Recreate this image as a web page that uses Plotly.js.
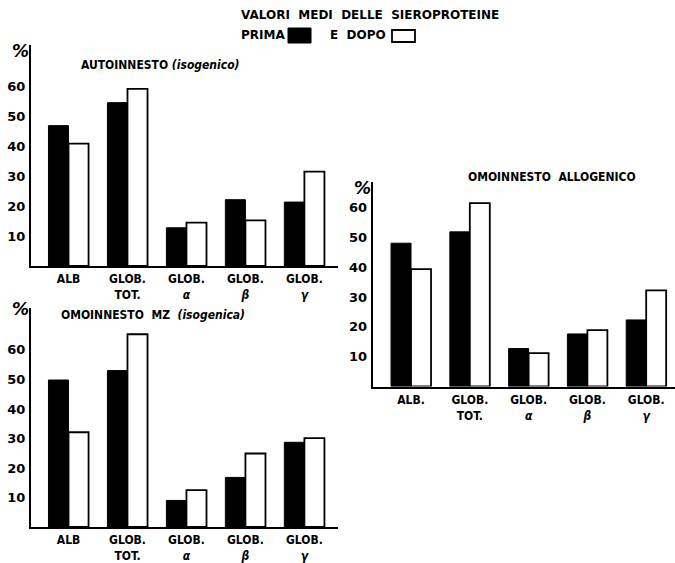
<!DOCTYPE html>
<html>
<head>
<meta charset="utf-8">
<script src="https://cdn.plot.ly/plotly-3.0.1.min.js"></script>
<style>html,body{margin:0;padding:0;background:#fff;}#chart{width:675px;height:563px;}</style>
</head>
<body>
<div id="chart"></div>
<script>
// ---- data ----
const catsAuto = ["ALB", "GLOB.<br>TOT.", "GLOB.<br><i>α</i>", "GLOB.<br><i>β</i>", "GLOB.<br><i>γ</i>"];
const catsMZ = ["ALB", "GLOB.<br>TOT.", "GLOB.<br><i>α</i>", "GLOB.<br><i>β</i>", "GLOB.<br><i>γ</i>"];
const catsAllo = ["ALB.", "GLOB.<br>TOT.", "GLOB.<br><i>α</i>", "GLOB.<br><i>β</i>", "GLOB.<br><i>γ</i>"];
const autoPrima = [47.0, 54.7, 12.8, 22.2, 21.4];
const autoDopo = [41.0, 59.3, 14.5, 15.3, 31.6];
const mzPrima = [49.8, 53.0, 9.0, 16.8, 28.7];
const mzDopo = [32.1, 65.3, 12.5, 24.9, 30.1];
const alloPrima = [48.0, 51.8, 12.7, 17.6, 22.3];
const alloDopo = [39.3, 61.4, 11.2, 18.9, 32.2];
const yTicks = [10, 20, 30, 40, 50, 60];
const titleMain = "VALORI  MEDI  DELLE  SIEROPROTEINE";
const legPrima = "PRIMA";
const legDopo = "E  DOPO";
const titleAuto = "AUTOINNESTO <i>(isogenico)</i>";
const titleMZ = "OMOINNESTO  MZ  <i>(isogenica)</i>";
const titleAllo = "OMOINNESTO  ALLOGENICO";

// ---- layout helpers ----
const W = 675, H = 563;
const px = x => x / W;
const py = y => 1 - y / H;
const FONT_C = "DejaVu Sans Condensed, DejaVu Sans, sans-serif";
const FONT = "DejaVu Sans, sans-serif";

function primaTrace(x, y, xa, ya) {
  return {type: "bar", x: x, y: y, xaxis: xa, yaxis: ya, name: "PRIMA", showlegend: false,
    marker: {color: "#000", line: {color: "#000", width: 1}}, hoverinfo: "x+y"};
}
function dopoTrace(x, y, xa, ya) {
  return {type: "bar", x: x, y: y, xaxis: xa, yaxis: ya, name: "DOPO", showlegend: false,
    marker: {color: "#fff", line: {color: "#000", width: 1.8}}, hoverinfo: "x+y"};
}

const data = [
  primaTrace(catsAuto, autoPrima, "x", "y"),
  dopoTrace(catsAuto, autoDopo, "x", "y"),
  primaTrace(catsMZ, mzPrima, "x2", "y2"),
  dopoTrace(catsMZ, mzDopo, "x2", "y2"),
  primaTrace(catsAllo, alloPrima, "x3", "y3"),
  dopoTrace(catsAllo, alloDopo, "x3", "y3")
];

function xax(domain, range, anchor) {
  return {domain: domain, range: range, anchor: anchor, type: "category",
    showline: true, linewidth: 2, linecolor: "#000", ticks: "", showgrid: false, zeroline: false,
    tickfont: {family: FONT_C, size: 12, color: "#000", weight: "bold"}, ticklabelstandoff: 1, fixedrange: true};
}
function yax(domain, range, anchor) {
  return {domain: domain, range: range, anchor: anchor,
    showline: true, linewidth: 2, linecolor: "#000", ticks: "", showgrid: false, zeroline: false,
    tickvals: yTicks, tickfont: {family: FONT, size: 13, color: "#000", weight: "bold"},
    ticklabelstandoff: 1, fixedrange: true};
}

const ann = (text, x, y, size, xanchor, fam) => ({
  text: text, x: px(x), y: py(y), xref: "paper", yref: "paper", showarrow: false,
  xanchor: xanchor || "center", yanchor: "middle",
  font: {family: fam || FONT_C, size: size, color: "#000", weight: "bold"}});

const layout = {
  width: W, height: H,
  margin: {l: 0, r: 0, t: 0, b: 0},
  paper_bgcolor: "#fff", plot_bgcolor: "rgba(0,0,0,0)",
  showlegend: false,
  barmode: "group", bargap: 0.32, bargroupgap: 0,
  font: {family: FONT_C, color: "#000"},
  xaxis: xax([px(31), px(338)], [-0.636, 4.57], "y"),
  yaxis: yax([py(266), py(45)], [0, 74.0], "x"),
  xaxis2: xax([px(31), px(338)], [-0.636, 4.57], "y2"),
  yaxis2: yax([py(527), py(308)], [0, 74.2], "x2"),
  xaxis3: xax([px(372.7), px(675)], [-0.652, 4.49], "y3"),
  yaxis3: yax([py(386.5), py(182)], [0, 68.5], "x3"),
  annotations: [
    ann(titleMain, 239, 15, 12, "left", FONT),
    ann(legPrima, 239, 35, 12, "left", FONT),
    ann(legDopo, 328, 35, 12, "left", FONT),
    ann(titleAuto, 160, 65, 12),
    ann(titleMZ, 153, 315, 12),
    ann(titleAllo, 552, 177, 12),
    ann("<i>%</i>", 20, 51, 17, "center", FONT),
    ann("<i>%</i>", 20, 309, 17, "center", FONT),
    ann("<i>%</i>", 362, 188, 17, "center", FONT)
  ],
  shapes: [
    {type: "rect", xref: "paper", yref: "paper", x0: px(288), x1: px(311), y0: py(43), y1: py(28),
      fillcolor: "#000", line: {color: "#000", width: 1}},
    {type: "rect", xref: "paper", yref: "paper", x0: px(392), x1: px(415), y0: py(42), y1: py(30),
      fillcolor: "#fff", line: {color: "#000", width: 1.8}}
  ]
};

Plotly.newPlot("chart", data, layout, {displayModeBar: false, staticPlot: true});
</script>
</body>
</html>
